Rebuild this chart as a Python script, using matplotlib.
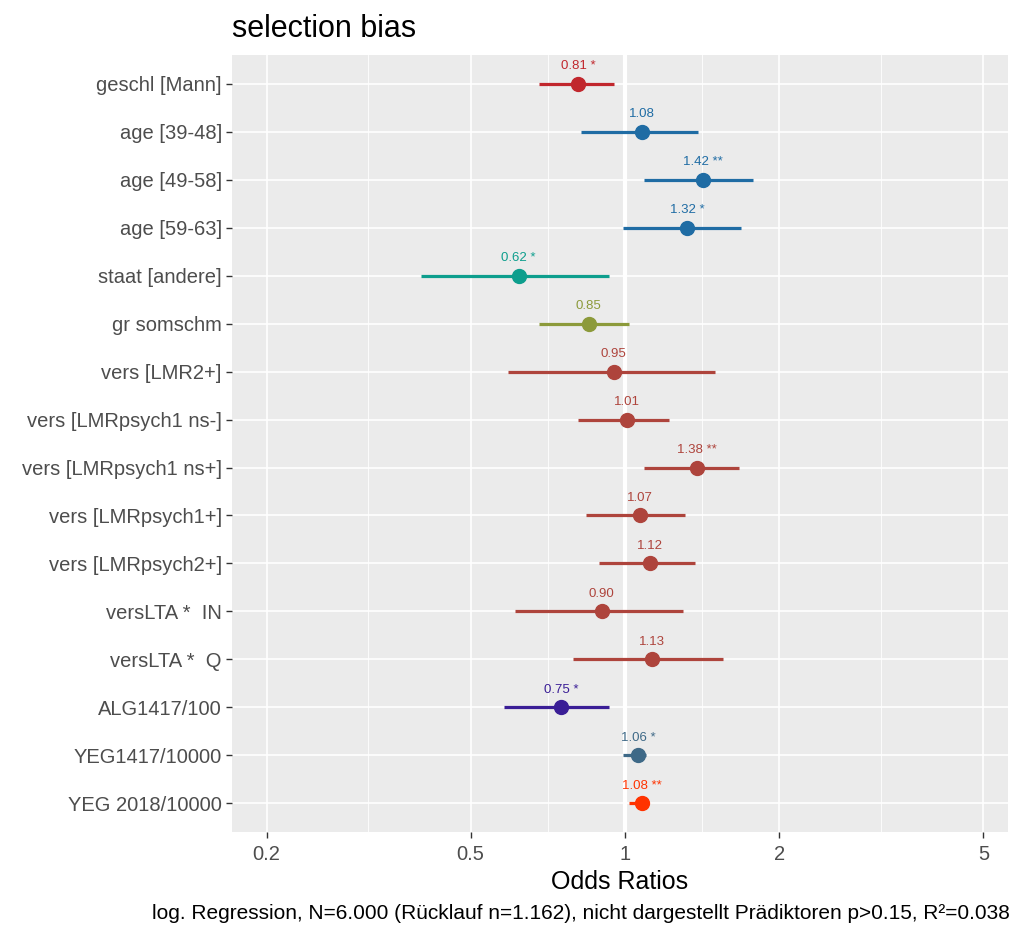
import numpy as np
from matplotlib import pyplot as plt
from matplotlib.ticker import FixedLocator, NullFormatter

plt.rcParams['font.family'] = ['Liberation Sans', 'DejaVu Sans']

# termini del modello, dall'alto verso il basso
terms = ["geschl [Mann]", "age [39-48]", "age [49-58]", "age [59-63]",
         "staat [andere]", "gr somschm", "vers [LMR2+]",
         "vers [LMRpsych1 ns-]", "vers [LMRpsych1 ns+]", "vers [LMRpsych1+]",
         "vers [LMRpsych2+]", "versLTA *  IN", "versLTA *  Q",
         "ALG1417/100", "YEG1417/10000", "YEG 2018/10000"]
odds = [0.81, 1.08, 1.42, 1.32, 0.62, 0.85, 0.95, 1.01, 1.38, 1.07,
        1.12, 0.90, 1.13, 0.75, 1.06, 1.08]
ci_low = [0.68, 0.82, 1.09, 0.99, 0.40, 0.68, 0.59, 0.81, 1.09, 0.84,
          0.89, 0.61, 0.79, 0.58, 0.99, 1.02]
ci_high = [0.95, 1.39, 1.78, 1.68, 0.93, 1.02, 1.50, 1.22, 1.67, 1.31,
           1.37, 1.30, 1.55, 0.93, 1.10, 1.11]
stars = ["*", "", "**", "*", "*", "", "", "", "**", "", "", "", "", "*",
         "*", "**"]
colors = ["#C1272D", "#1F6CA4", "#1F6CA4", "#1F6CA4", "#0D9E8D", "#8C9A3A",
          "#AE443C", "#AE443C", "#AE443C", "#AE443C", "#AE443C", "#AE443C",
          "#AE443C", "#3A1E96", "#3E6987", "#FF3300"]

x_major = [0.2, 0.5, 1, 2, 5]
x_minor = [0.316, 0.707, 1.414, 3.162]

fig = plt.figure(figsize=(10.14, 9.26), dpi=100)
ax = fig.add_axes([0.229, 0.1015, 0.765, 0.839])
ax.set_facecolor("#EBEBEB")

n = len(terms)
ypos = np.arange(n)[::-1]

ax.set_xscale("log")
ax.set_xlim(0.1714, 5.58)
ax.set_ylim(-0.6, n - 1 + 0.6)

# griglia stile ggplot
for v in x_minor:
    ax.axvline(v, color="white", lw=0.6, zorder=1)
for v in x_major:
    ax.axvline(v, color="white", lw=1.2, zorder=1)
for y in ypos:
    ax.axhline(y, color="white", lw=1.2, zorder=1)
ax.axvline(1, color="white", lw=3, zorder=1.5)

for i in range(n):
    y = ypos[i]
    ax.plot([ci_low[i], ci_high[i]], [y, y], color=colors[i], lw=2.3,
            solid_capstyle="butt", zorder=3)
    ax.plot(odds[i], y, "o", color=colors[i], ms=10, zorder=4)
    lab = "%.2f" % odds[i]
    if stars[i]:
        lab += " " + stars[i]
    ax.text(odds[i], y + 0.24, lab, color=colors[i], fontsize=9.5,
            ha="center", va="bottom", zorder=5)

ax.set_yticks(ypos)
ax.set_yticklabels(terms)
ax.xaxis.set_major_locator(FixedLocator(x_major))
ax.xaxis.set_minor_locator(FixedLocator([]))
ax.xaxis.set_minor_formatter(NullFormatter())
ax.set_xticklabels(["0.2", "0.5", "1", "2", "5"])
ax.tick_params(axis="both", colors="#333333", labelcolor="#4D4D4D",
               labelsize=14.5, length=4, width=1)
ax.tick_params(axis="x", pad=5)
for s in ax.spines.values():
    s.set_visible(False)

ax.set_xlabel("Odds Ratios", fontsize=18, labelpad=5)
ax.set_title("selection bias", loc="left", fontsize=22, pad=13)
fig.text(0.996, 0.014, "log. Regression, N=6.000 (Rücklauf n=1.162), nicht "
         "dargestellt Prädiktoren p>0.15, R²=0.038", ha="right",
         va="center", fontsize=15)

fig.savefig("out.png", dpi=100)
